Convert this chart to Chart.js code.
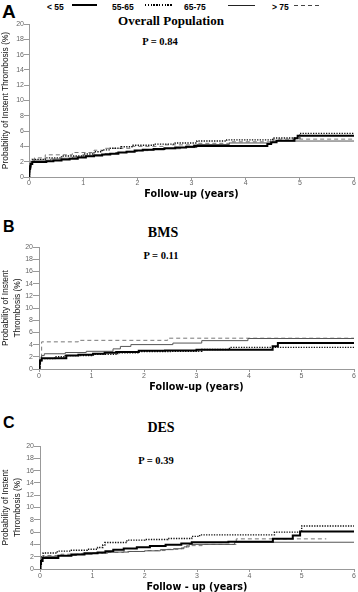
<!DOCTYPE html>
<html>
<head>
<meta charset="utf-8">
<script src="https://cdn.jsdelivr.net/npm/chart.js@4/dist/chart.umd.min.js"></script>
<style>
  body { margin: 0; background: #fff; width: 358px; height: 592px; position: relative; overflow: hidden; }
  canvas { position: absolute; left: 0; }
  .letter { position: absolute; font: bold 19px 'Liberation Sans', Arial, sans-serif; line-height: 1; color: #000; }
  .ttl { position: absolute; width: 200px; text-align: center; font-family: 'Liberation Serif', 'Times New Roman', serif; font-weight: bold; line-height: 1; color: #000; }
  .leg { position: absolute; top: 3px; font: bold 8.5px 'Liberation Sans', Arial, sans-serif; line-height: 1; color: #000; }
  .legline { position: absolute; }
</style>
</head>
<body>

<div class="letter" style="left:2px;top:2px">A</div>
<div class="leg" style="left:47px">&lt; 55</div>
<div class="legline" style="left:72px;top:4px;width:25px;height:2px;background:#000"></div>
<div class="leg" style="left:112px">55-65</div>
<div class="legline" style="left:145px;top:4px;width:27px;height:1.5px;background:repeating-linear-gradient(to right,#000 0 1.4px,transparent 1.4px 2.8px)"></div>
<div class="leg" style="left:184px">65-75</div>
<div class="legline" style="left:228px;top:5px;width:27px;height:1px;background:#222"></div>
<div class="leg" style="left:272px">&gt; 75</div>
<div class="legline" style="left:294px;top:5px;width:25px;height:1px;background:repeating-linear-gradient(to right,#444 0 4px,transparent 4px 7px)"></div>
<div class="ttl" style="left:71px;top:14px;font-size:13px">Overall Population</div>
<div class="ttl" style="left:60px;top:36.5px;font-size:10.5px">P = 0.84</div>

<div class="letter" style="left:3px;top:219px;font-size:16px">B</div>
<div class="ttl" style="left:63px;top:226px;font-size:14px">BMS</div>
<div class="ttl" style="left:61px;top:250.5px;font-size:10.5px">P = 0.11</div>

<div class="letter" style="left:3px;top:415px;font-size:16px">C</div>
<div class="ttl" style="left:61px;top:421px;font-size:14px">DES</div>
<div class="ttl" style="left:56px;top:456px;font-size:10.5px">P = 0.39</div>

<canvas id="chartA" width="358" height="200" style="top:0px"></canvas>
<canvas id="chartB" width="358" height="200" style="top:195px"></canvas>
<canvas id="chartC" width="358" height="198" style="top:395px"></canvas>

<script>
const groupLabels = ['< 55', '55-65', '65-75', '> 75'];

// overall population, [follow-up years, cumulative %]
const overallUnder55 = [[0,0],[0.005,0.6],[0.01,1.0],[0.02,1.4],[0.03,1.7],[0.06,1.95],[0.32,2.05],[0.45,2.15],[0.6,2.3],[0.75,2.4],[0.9,2.55],[1.05,2.7],[1.2,2.8],[1.35,2.95],[1.5,3.05],[1.65,3.2],[1.8,3.3],[1.95,3.45],[2.1,3.55],[2.3,3.65],[2.5,3.75],[2.7,3.85],[2.9,3.95],[3.05,4.05],[4.4,4.3],[4.47,4.55],[4.57,4.75],[4.9,5.05],[4.96,5.4],[6,5.4]];
const overall55to65 = [[0,0],[0.01,1.2],[0.03,1.8],[0.06,2.3],[0.3,2.5],[0.6,2.75],[1.0,3.0],[1.2,3.3],[1.35,3.55],[1.5,3.75],[1.7,3.95],[1.9,4.15],[2.3,4.3],[2.7,4.45],[3.1,4.7],[3.65,4.85],[4.5,5.1],[5.0,5.7],[6,5.7]];
const overall65to75 = [[0,0],[0.01,1.0],[0.03,1.7],[0.06,2.1],[0.1,2.2],[0.4,2.35],[0.6,2.45],[0.8,2.6],[1.0,2.75],[1.2,2.9],[1.4,3.05],[1.6,3.2],[1.8,3.35],[2.0,3.45],[2.2,3.55],[2.5,3.7],[2.8,3.85],[3.1,4.25],[3.7,4.45],[4.5,4.7],[6,4.7]];
const overallOver75 = [[0,0],[0.01,1.3],[0.03,2.2],[0.1,2.5],[0.3,2.9],[0.8,3.2],[1.2,3.5],[1.4,3.75],[1.9,4.0],[2.5,4.2],[3.1,4.4],[3.7,4.6],[4.5,4.95],[6,4.95]];

// BMS
const bmsUnder55 = [[0,0],[0.01,0.9],[0.02,1.4],[0.05,1.75],[0.52,2.2],[0.75,2.35],[1.03,2.5],[1.25,2.65],[1.47,2.8],[1.9,3.0],[2.4,3.05],[3.0,3.15],[4.45,3.75],[4.55,4.25],[6,4.25]];
const bms55to65 = [[0,0],[0.02,1.2],[0.05,1.7],[0.3,2.0],[0.5,2.2],[1.0,2.4],[1.5,2.65],[1.9,2.85],[2.5,2.9],[3.1,3.2],[3.63,3.55],[6,3.55]];
const bms65to75 = [[0,0],[0.01,1.5],[0.05,2.2],[0.1,2.5],[0.5,2.7],[0.9,2.9],[1.41,3.3],[1.55,3.7],[1.75,4.0],[2.55,4.25],[3.1,4.65],[3.98,5.0],[6,5.0]];
const bmsOver75 = [[0,0],[0.02,2.0],[0.05,4.45],[0.75,4.7],[2.45,5.05],[6,5.05]];

// DES
const desUnder55 = [[0,0],[0.01,0.8],[0.02,1.3],[0.05,1.8],[0.35,2.15],[0.6,2.35],[0.85,2.55],[1.1,2.7],[1.25,2.9],[1.4,3.15],[1.6,3.35],[1.85,3.55],[2.1,3.75],[2.4,3.95],[2.7,4.15],[2.9,4.35],[3.6,4.45],[4.45,4.9],[4.83,5.45],[4.97,6.1],[6,6.1]];
const des55to65 = [[0,0],[0.01,1.4],[0.03,2.1],[0.06,2.6],[0.33,2.9],[0.6,3.05],[0.9,3.2],[1.1,3.5],[1.2,3.9],[1.24,4.3],[1.66,4.7],[2.0,4.8],[2.44,4.95],[2.9,5.3],[3.05,5.55],[4.48,6.0],[5.0,7.0],[6,7.0]];
const des65to75 = [[0,0],[0.01,1.2],[0.04,1.9],[0.1,2.05],[0.35,2.2],[0.7,2.4],[1.0,2.6],[1.3,2.75],[1.7,2.85],[2.0,2.95],[2.3,3.15],[2.55,3.3],[2.75,3.6],[2.85,4.0],[3.72,4.35],[6,4.35]];
const desOver75 = [[0,0],[0.01,1.2],[0.03,1.9],[0.08,2.2],[0.4,2.4],[0.8,2.55],[1.2,2.7],[1.6,2.85],[2.0,3.0],[2.4,3.2],[2.7,3.45],[2.8,3.8],[3.1,4.0],[3.75,4.9],[5.47,4.9]];

const lineStyles = [
  { color: '#000', width: 2, dash: [] },
  { color: '#111', width: 1.4, dash: [1.3, 1.3] },
  { color: '#555', width: 1, dash: [] },
  { color: '#777', width: 1, dash: [4, 3] }
];

const sansFont = "'Liberation Sans', Arial, sans-serif";

function makePanel(id, series, box) {
    const datasets = series.map(function (pts, i) {
        return {
            label: groupLabels[i],
            data: pts.map(p => ({ x: p[0], y: p[1] })),
            stepped: true,
            fill: false,
            borderColor: lineStyles[i].color,
            borderWidth: lineStyles[i].width,
            borderDash: lineStyles[i].dash,
            borderCapStyle: 'butt',
            pointRadius: 0
        };
    });

    return new Chart(document.getElementById(id), {
        type: 'line',
        data: { datasets: datasets },
        options: {
            responsive: false,
            animation: false,
            devicePixelRatio: 1,
            layout: { padding: { top: box.top, right: 4, left: 0, bottom: 0 } },
            plugins: { legend: { display: false }, tooltip: { enabled: false } },
            scales: {
                x: {
                    type: 'linear', min: 0, max: 6,
                    ticks: { stepSize: 1, color: '#666', font: { family: sansFont, size: 7 }, padding: box.xTickPad, maxRotation: 0 },
                    grid: { drawOnChartArea: false, tickLength: 3, color: '#999' },
                    border: { color: '#999' },
                    title: {
                        display: true, text: box.xTitle, color: '#000',
                        font: { family: "'DejaVu Sans', sans-serif", size: 9.6, weight: 'bold' },
                        padding: { top: 0, bottom: box.xTitlePad }
                    },
                    afterFit: function (scale) { scale.height = box.xh; }
                },
                y: {
                    min: 0, max: 20,
                    ticks: { stepSize: 2, color: '#666', font: { family: sansFont, size: 7 }, padding: 0 },
                    grid: { drawOnChartArea: false, tickLength: box.tick, color: '#999' },
                    border: { color: '#999' },
                    title: {
                        display: true, text: box.yTitle, color: '#111',
                        font: { family: sansFont, size: 8.4, lineHeight: box.yLine },
                        padding: { top: box.yPad, bottom: 0 }
                    },
                    afterFit: function (scale) { scale.width = box.left; }
                }
            }
        }
    });
}

makePanel('chartA', [overallUnder55, overall55to65, overall65to75, overallOver75], {
    left: 29, top: 24, xh: 23, tick: 5, xTickPad: -1, xTitlePad: 0, yLine: 1.2, yPad: 1,
    yTitle: 'Probability of Instent Thrombosis (%)', xTitle: 'Follow-up (years)'
});
makePanel('chartB', [bmsUnder55, bms55to65, bms65to75, bmsOver75], {
    left: 39, top: 52, xh: 26, tick: 6, xTickPad: 0, xTitlePad: 2, yLine: 1.37, yPad: 0,
    yTitle: ['Probability of Instent', 'Thrombosis (%)'], xTitle: 'Follow-up (years)'
});
makePanel('chartC', [desUnder55, des55to65, des65to75, desOver75], {
    left: 40, top: 51, xh: 24, tick: 6, xTickPad: 0, xTitlePad: 0, yLine: 1.37, yPad: 0,
    yTitle: ['Probability of Instent', 'Thrombosis (%)'], xTitle: 'Follow - up (years)'
});
</script>
</body>
</html>
